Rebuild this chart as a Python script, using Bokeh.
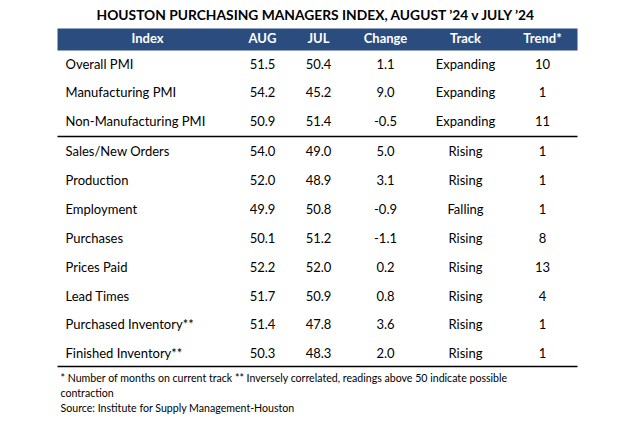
from bokeh.plotting import figure
from bokeh.models import ColumnDataSource, Range1d
from bokeh.core.properties import value
from bokeh.embed import file_html
from bokeh.resources import INLINE

title = "HOUSTON PURCHASING MANAGERS INDEX, AUGUST \u201924 v JULY \u201924"
headers = ["Index", "AUG", "JUL", "Change", "Track", "Trend*"]
index_names = ["Overall PMI", "Manufacturing PMI", "Non-Manufacturing PMI",
               "Sales/New Orders", "Production", "Employment", "Purchases",
               "Prices Paid", "Lead Times", "Purchased Inventory**", "Finished Inventory**"]
aug = [51.5, 54.2, 50.9, 54.0, 52.0, 49.9, 50.1, 52.2, 51.7, 51.4, 50.3]
jul = [50.4, 45.2, 51.4, 49.0, 48.9, 50.8, 51.2, 52.0, 50.9, 47.8, 48.3]
change = [1.1, 9.0, -0.5, 5.0, 3.1, -0.9, -1.1, 0.2, 0.8, 3.6, 2.0]
track = ["Expanding", "Expanding", "Expanding", "Rising", "Rising", "Falling",
         "Rising", "Rising", "Rising", "Rising", "Rising"]
trend = [10, 1, 11, 1, 1, 1, 8, 13, 4, 1, 1]
footnotes = ["* Number of months on current track ** Inversely correlated, readings above 50 indicate possible",
             "contraction",
             "Source: Institute for Supply Management-Houston"]

FONT = "Lato"
p = figure(width=633, height=421, x_range=Range1d(0, 633), y_range=Range1d(421, 0),
           output_backend="svg", toolbar_location=None, min_border=0)
p.axis.visible = False
p.grid.visible = False
p.outline_line_color = None

L, R = 57, 577
# title
p.text(x=[316], y=[13.5], text=[title], text_font=value(FONT), text_font_style="bold",
       text_font_size="13.8px", text_align="center", text_baseline="middle", text_color="black")
# header band
p.quad(left=[L], right=[R], top=[28], bottom=[50], fill_color="#2B4C7E", line_color=None)
col_x = [147, 262, 318, 385, 465, 542]
p.text(x=col_x, y=[37.8] * 6, text=headers, text_font=value(FONT), text_font_style="bold",
       text_font_size="13px", text_align="center", text_baseline="middle", text_color="white")

# rows
row_h = 28.9
ys = []
for i in range(len(index_names)):
    y = 63 + i * row_h + (0.8 if i >= 3 else 0)
    ys.append(y)
src = ColumnDataSource(dict(
    y=ys, name=index_names,
    aug=[f"{v:.1f}" for v in aug], jul=[f"{v:.1f}" for v in jul],
    chg=[f"{v:.1f}" for v in change], track=track, trend=[str(t) for t in trend]))
common = dict(source=src, y="y", text_font=value(FONT), text_font_size="13px",
              text_baseline="middle", text_color="black")
p.text(x=65, text="name", text_align="left", **common)
p.text(x=col_x[1], text="aug", text_align="center", **common)
p.text(x=col_x[2], text="jul", text_align="center", **common)
p.text(x=col_x[3], text="chg", text_align="center", **common)
p.text(x=col_x[4], text="track", text_align="center", **common)
p.text(x=col_x[5], text="trend", text_align="center", **common)

# separator lines
p.segment(x0=[L, L], x1=[R, R], y0=[136, 366], y1=[136, 366], line_color="black", line_width=1.5)

# footnotes
p.text(x=[60, 60, 60], y=[377.5, 392.5, 407.5], text=footnotes, text_font=value(FONT),
       text_font_size="10.6px", text_align="left", text_baseline="middle", text_color="black")

open("out.html", "w").write(file_html(p, INLINE))
